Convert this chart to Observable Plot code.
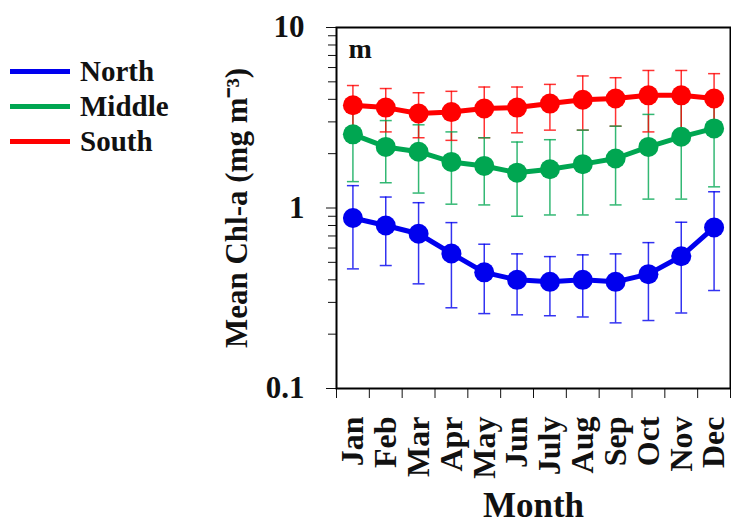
<!DOCTYPE html>
<html>
<head>
<meta charset="utf-8">
<script src="https://cdn.jsdelivr.net/npm/d3@7"></script>
<script src="https://cdn.jsdelivr.net/npm/@observablehq/plot@0.6"></script>
<style>
  html, body { margin: 0; padding: 0; background: #fff; }
  #wrap { position: relative; width: 731px; height: 530px; font-family: "Liberation Serif", "Times New Roman", serif; }
  #legend { position: absolute; left: 10px; top: 54px; }
  .item { display: flex; align-items: center; height: 35px; }
  .swatch { width: 60px; height: 5px; margin-right: 10px; }
  .lab { font-size: 29px; font-weight: bold; color: #111; line-height: 35px; }
  #chart { position: absolute; left: 0; top: 0; }
</style>
</head>
<body>
<div id="wrap">
  <div id="chart"></div>
  <div id="legend"></div>
</div>
<script>
const months = ["Jan","Feb","Mar","Apr","May","Jun","July","Aug","Sep","Oct","Nov","Dec"];
const seriesNames = ["North","Middle","South"];
const seriesColors = ["#0000ee","#00a651","#ff0000"];

const northMean = [0.88,0.80,0.72,0.56,0.44,0.40,0.39,0.40,0.39,0.43,0.54,0.78];
const northLow  = [0.46,0.48,0.38,0.28,0.26,0.256,0.253,0.249,0.231,0.238,0.262,0.349];
const northHigh = [1.33,1.15,1.07,0.83,0.63,0.557,0.538,0.55,0.557,0.643,0.834,1.23];

const middleMean = [2.56,2.18,2.05,1.80,1.71,1.57,1.64,1.75,1.88,2.18,2.48,2.76];
const middleLow  = [1.40,1.38,1.21,1.05,1.04,0.90,0.915,0.915,1.04,1.12,1.12,1.31];
const middleHigh = [3.72,3.05,2.89,2.64,2.45,2.32,2.39,2.70,2.84,3.30,3.84,4.21];

const southMean = [3.71,3.60,3.34,3.40,3.56,3.60,3.79,3.98,4.04,4.21,4.21,4.04];
const southLow  = [2.65,2.64,2.45,2.37,2.45,2.61,2.70,2.70,2.84,2.64,2.64,2.53];
const southHigh = [4.77,4.59,4.35,4.43,4.68,4.68,4.84,5.39,5.27,5.78,5.78,5.55];

const yMajorTicks = [0.1, 1, 10];
const yMinorTicks = [0.2,0.3,0.4,0.5,0.6,0.7,0.8,0.9,2,3,4,5,6,7,8,9];
const panelLabel = "m";
const xTitle = "Month";
const yTitle = "Mean Chl-a (mg m\u207B\u00B3)";

const means = [northMean, middleMean, southMean];
const lows = [northLow, middleLow, southLow];
const highs = [northHigh, middleHigh, southHigh];

const data = [];
seriesNames.forEach((s, si) => {
  months.forEach((m, i) => {
    data.push({series: s, m: i + 1, mean: means[si][i], lo: lows[si][i], hi: highs[si][i]});
  });
});

const color = {domain: seriesNames, range: seriesColors};
const capSymbol = {
  draw(ctx, size) {
    const r = Math.sqrt(size / Math.PI);
    ctx.moveTo(-r, 0);
    ctx.lineTo(r, 0);
  }
};

const font = "'Liberation Serif', 'Times New Roman', serif";
const marks = [];

// error bars
marks.push(Plot.ruleX(data, {x: "m", y1: "lo", y2: "hi", stroke: "series", strokeWidth: 1.5, strokeOpacity: 0.8}));
marks.push(Plot.dot(data, {x: "m", y: "lo", symbol: capSymbol, r: 6, stroke: "series", fill: "none", strokeWidth: 1.5, strokeOpacity: 0.8}));
marks.push(Plot.dot(data, {x: "m", y: "hi", symbol: capSymbol, r: 6, stroke: "series", fill: "none", strokeWidth: 1.5, strokeOpacity: 0.8}));

seriesNames.forEach(s => {
  const sub = data.filter(d => d.series === s);
  marks.push(Plot.line(sub, {x: "m", y: "mean", stroke: "series", strokeWidth: 5}));
  marks.push(Plot.dot(sub, {x: "m", y: "mean", fill: "series", r: 10, stroke: "none"}));
});

// axes
marks.push(Plot.axisY({ticks: yMajorTicks, tickSize: 10, tickPadding: 22, tickFormat: d => String(d), fontSize: 31, fontWeight: "bold", label: null}));
marks.push(Plot.axisY({ticks: yMinorTicks, tickSize: 8, tickFormat: () => "", label: null}));
marks.push(Plot.axisX({ticks: d3.range(0.5, 13, 1), tickSize: 10, tickFormat: () => "", label: null}));
marks.push(Plot.axisX({ticks: d3.range(1, 13, 1), tickSize: 0, tickPadding: 28, tickRotate: -90, tickFormat: i => months[i - 1], fontSize: 32, fontWeight: "bold", label: null}));

marks.push(Plot.frame({stroke: "black", strokeWidth: 2}));

marks.push(Plot.text([xTitle], {frameAnchor: "bottom", dy: 117, fontSize: 35, fontWeight: "bold", textAnchor: "middle", lineAnchor: "middle"}));
marks.push(Plot.text([yTitle], {frameAnchor: "left", dx: -99, rotate: -90, fontSize: 31, fontWeight: "bold", textAnchor: "middle", lineAnchor: "middle"}));
marks.push(Plot.text([panelLabel], {frameAnchor: "top-left", dx: 12, dy: 22, fontSize: 28, fontWeight: "bold", textAnchor: "start", lineAnchor: "middle"}));

const chart = Plot.plot({
  width: 731,
  height: 530,
  marginLeft: 336,
  marginRight: 1,
  marginTop: 27,
  marginBottom: 142,
  style: {fontFamily: font, color: "#111", background: "white", overflow: "visible"},
  x: {type: "linear", domain: [0.5, 12.5], axis: null},
  y: {type: "log", domain: [0.1, 10], axis: null},
  color,
  marks
});
document.getElementById("chart").appendChild(chart);

const legend = document.getElementById("legend");
seriesNames.forEach((s, i) => {
  const item = document.createElement("div");
  item.className = "item";
  const sw = document.createElement("div");
  sw.className = "swatch";
  sw.style.background = seriesColors[i];
  const lab = document.createElement("span");
  lab.className = "lab";
  lab.textContent = s;
  item.appendChild(sw);
  item.appendChild(lab);
  legend.appendChild(item);
});
</script>
</body>
</html>
